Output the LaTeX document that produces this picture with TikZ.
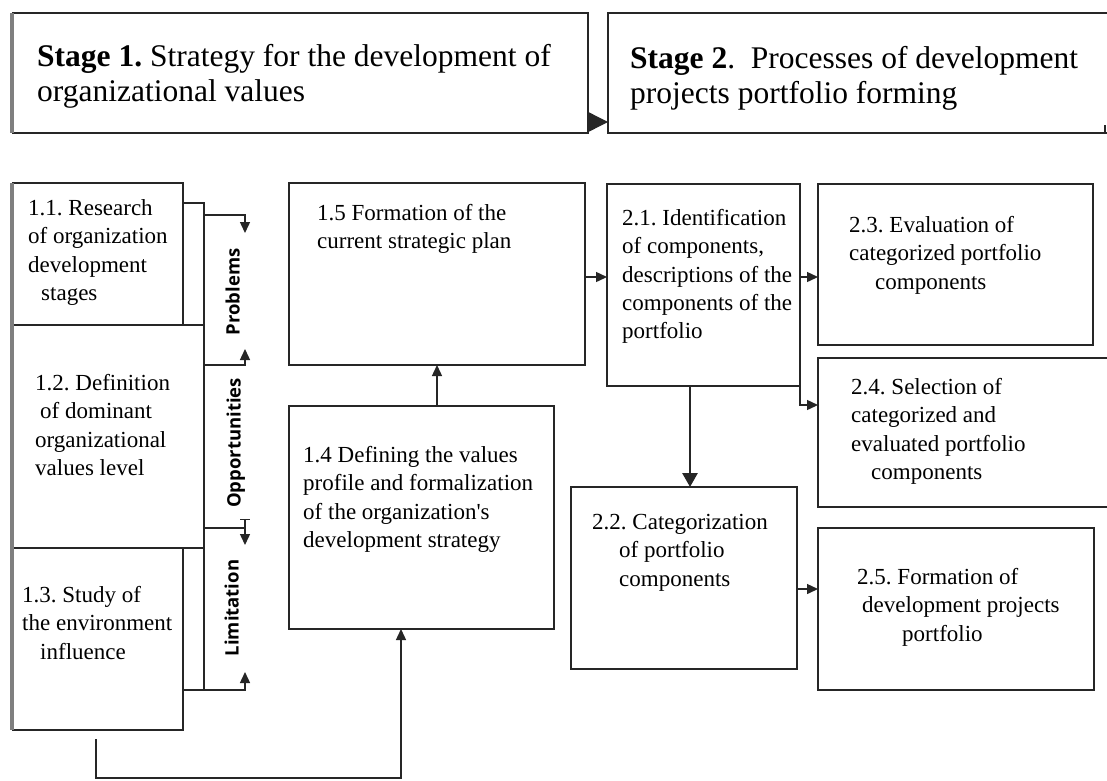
\documentclass[tikz,border=0pt]{standalone}
\usepackage{fontspec}
\setmainfont{Liberation Serif}
\newfontfamily\lblfont{Open Sans}
\usetikzlibrary{arrows.meta,calc}
\definecolor{linec}{HTML}{262626}
\definecolor{edgec}{HTML}{7F7F7F}
\frenchspacing
\begin{document}
\begin{tikzpicture}[x=1pt,y=-1pt,
  box/.style={draw=linec,line width=1.6pt,anchor=north west,inner sep=0pt,outer sep=0pt},
  lbox/.style={box,line width=2pt},
  txt/.style={anchor=base west,inner sep=0pt,font=\frenchspacing\fontsize{23}{28.3}\selectfont},
  stg/.style={anchor=base west,inner sep=0pt,font=\frenchspacing\fontsize{31.5}{35}\selectfont},
  lbl/.style={rotate=90,anchor=base,inner sep=0pt,font=\lblfont\bfseries\fontsize{18.5}{20}\selectfont},
  conn/.style={draw=linec,line width=1.4pt},
  arr/.style={conn,-{Triangle[length=11pt,width=10pt]}},
]
\useasboundingbox (0,0) rectangle (1107,780);
\fill[white] (0,0) rectangle (1107,780);
\clip (0,0) rectangle (1107,780);

% stage boxes
\node[box,minimum width=575pt,minimum height=120pt] (s1) at (13,13) {};
\node[box,minimum width=520pt,minimum height=120pt] (s2) at (608,13) {};
\draw[conn] (1105,133) -- (1105,125);
\draw[edgec,line width=4.5pt] ([xshift=-1pt]s1.north west) -- ([xshift=-1pt]s1.south west);
\draw[conn,-{Triangle[length=20pt,width=20pt]}] ([yshift=11pt]s1.south east) -- ([yshift=11pt]s1.south east -| s2.west);
\node[stg] (t1) at (37,66) {\parbox[t]{600pt}{\textbf{Stage 1.} Strategy for the development of\\organizational values}};
\node[stg] (t2) at (630,68) {\parbox[t]{480pt}{\textbf{Stage 2}.\ \ Processes of development\\projects portfolio forming}};

% left column
\node[lbox,minimum width=191pt,minimum height=223pt] (n12) at (13,325) {};
\node[lbox,minimum width=170pt,minimum height=142pt] (n11) at (13,183) {};
\node[lbox,minimum width=170pt,minimum height=182pt] (n13) at (13,548) {};
\draw[edgec,line width=4.5pt] ([xshift=-1pt]n11.north west) -- ([xshift=-1pt]n13.south west);

\node[txt] (t11) at (28,215.5) {\parbox[t]{160pt}{1.1. Research\\of organization\\development\\\hspace*{13pt}stages}};
\node[txt] (t12) at (35,390.5) {\parbox[t]{170pt}{1.2. Definition\\\hspace*{5pt}of dominant\\organizational\\values level}};
\node[txt] (t13) at (22,602.5) {\parbox[t]{170pt}{1.3. Study of\\the environment\\\hspace*{18pt}influence}};

% bus and brackets
\coordinate (lim) at ([yshift=40pt]n13.south east);
\draw[conn] ([yshift=-20pt]n11.north east) -| (n12.north east);
\draw[conn] (n12.south east) -- (n12.south east |- lim);
\draw[arr] (lim) -- ++(62,0) -- ++(0,-18);
\draw[arr] (n12.north east |- 0,215) -- (245,215) -- (245,233);
\draw[arr] (n12.north east |- 0,365) -- (245,365) -- (245,349);
\draw[conn] (n12.north east |- 0,528) -- (245,528);
\draw[conn,{Bar[width=10pt]}-{Triangle[length=11pt,width=10pt]}] (245,519) -- (245,545);
\node[lbl] (lp) at (239.5,292) {Problems};
\node[lbl] (lo) at (240.5,443) {Opportunities};
\node[lbl] (ll) at (238.5,608) {Limitation};

% middle column
\node[box,minimum width=296pt,minimum height=182pt] (n15) at (289,183) {};
\node[box,minimum width=265pt,minimum height=223pt] (n14) at (289,406) {};
\node[txt] (t15) at (317,220.5) {\parbox[t]{260pt}{1.5 Formation of the\\current strategic plan}};
\node[txt] (t14) at (303,462.5) {\parbox[t]{250pt}{1.4 Defining the values\\profile and formalization\\of the organization\textquotesingle s\\development strategy}};
\draw[arr] (437,0 |- n14.north) -- (437,0 |- n15.south);
\draw[arr] ([xshift=-2pt,yshift=-9pt]n13.south) -- ++(0,39) -| (401,0 |- n14.south);

% stage 2 column
\node[box,minimum width=193pt,minimum height=202pt] (n21) at (607,184) {};
\node[box,minimum width=275pt,minimum height=161pt] (n23) at (818,184) {};
\node[box,minimum width=300pt,minimum height=149pt] (n24) at (818,358) {};
\node[box,minimum width=226pt,minimum height=182pt] (n22) at (571,487) {};
\node[box,minimum width=276pt,minimum height=162pt] (n25) at (818,528) {};

\node[txt] (t21) at (622,225.5) {\parbox[t]{180pt}{2.1. Identification\\of components,\\descriptions of the\\components of the\\portfolio}};
\node[txt] (t23) at (849,232.5) {\parbox[t]{240pt}{2.3. Evaluation of\\categorized portfolio\\\hspace*{26pt}components}};
\node[txt] (t24) at (851,394.5) {\parbox[t]{240pt}{2.4. Selection of\\categorized and\\evaluated portfolio\\\hspace*{20pt}components}};
\node[txt] (t22) at (592,529.5) {\parbox[t]{200pt}{2.2. Categorization\\\hspace*{27pt}of portfolio\\\hspace*{27pt}components}};
\node[txt] (t25) at (857,584.5) {\parbox[t]{235pt}{2.5. Formation of\\\hspace*{5pt}development projects\\\hspace*{45pt}portfolio}};

\draw[arr] ([yshift=-3pt]n15.east) -- ([yshift=-3pt]n15.east -| n21.west);
\draw[arr] ([yshift=8pt]n21.east) -- ([yshift=8pt]n21.east -| n23.west);
\draw[arr] (n21.south east) |- ([yshift=27.5pt]n24.west);
\draw[conn,line width=2.8pt,-{Triangle[length=14pt,width=15pt]}] (690,0 |- n21.south) -- (690,0 |- n22.north);
\draw[arr] ([yshift=-11pt]n22.east) -- ([yshift=-11pt]n22.east -| n25.west);
\end{tikzpicture}
\end{document}
